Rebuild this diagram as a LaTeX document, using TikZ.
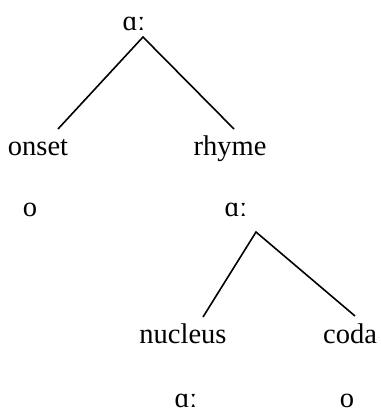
\documentclass[tikz,border=0pt]{standalone}
\usepackage{fontspec}
\setmainfont{Liberation Serif}
\begin{document}
\begin{tikzpicture}[x=1pt,y=-1pt,
  lbl/.style={anchor=base,inner sep=0pt,font=\fontsize{28.5}{34}\selectfont},
  branch/.style={draw,line width=1.6pt}]
\useasboundingbox (0,0) rectangle (381,416);
\node[lbl] (root) at (134,30) {ɑː};
\node[lbl] (onset) at (38,155) {onset};
\node[lbl] (rhyme) at (230,155) {rhyme};
\node[lbl] (o1) at (30,216) {o};
\node[lbl] (rv) at (236,216) {ɑː};
\node[lbl] (nucleus) at (183,343) {nucleus};
\node[lbl] (coda) at (350,343) {coda};
\node[lbl] (nv) at (186,407) {ɑː};
\node[lbl] (o2) at (347,407) {o};
\coordinate (rootapex) at (143,37);
\coordinate (onsettop) at (58,129);
\coordinate (rhymetop) at (234,129);
\coordinate (rvapex) at (256,232);
\coordinate (nucleustop) at (203,317);
\coordinate (codatop) at (355,316);
\draw[branch] (onsettop) -- (rootapex) -- (rhymetop);
\draw[branch] (nucleustop) -- (rvapex) -- (codatop);
\end{tikzpicture}
\end{document}
